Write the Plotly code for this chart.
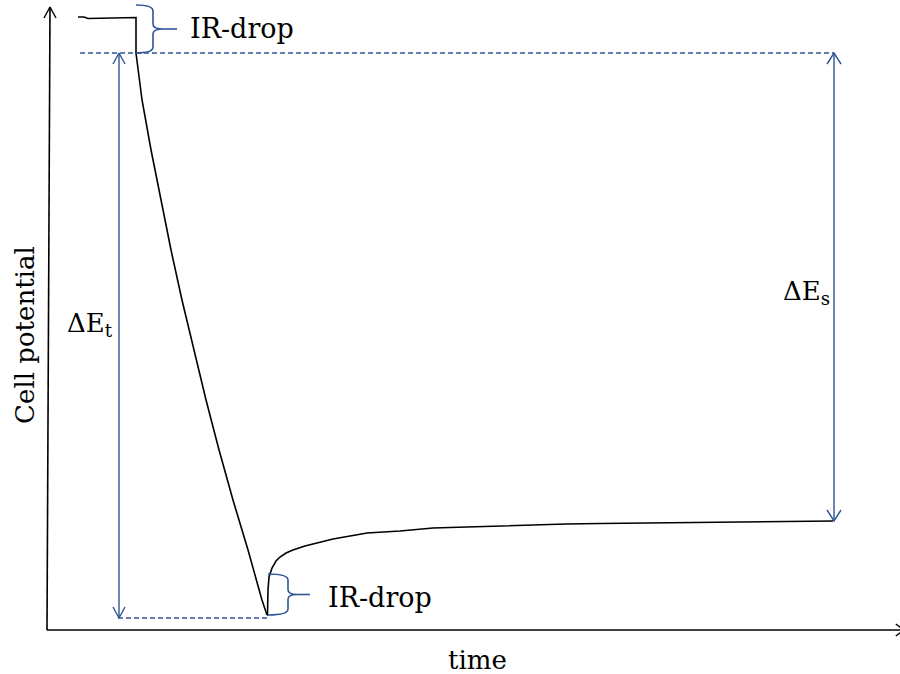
import plotly.graph_objects as go

# ---------------- data (time in arbitrary units, potential in arbitrary units) -------------
# rest period before current is applied
rest_t = [3.65, 4.35, 4.82, 6.71, 8.47, 10.47]
rest_E = [6.13, 6.13, 6.115, 6.12, 6.12, 6.125]

# discharge (after the first IR-drop)
dis_t = [10.47, 10.71, 11.18, 12.24, 13.41, 14.59, 15.88, 17.29, 18.71, 20.24,
         21.88, 23.65, 25.29, 25.88]
dis_E = [5.77, 5.60, 5.30, 4.80, 4.30, 3.80, 3.30, 2.80, 2.30, 1.80,
         1.30, 0.80, 0.30, 0.15]

# relaxation (after the second IR-drop)
rel_t = [25.94, 26.00, 26.12, 26.47, 26.94, 27.41, 28.12, 28.94, 30.35, 31.76,
         33.65, 35.65, 37.65, 41.53, 45.41, 49.41, 53.29, 57.18, 61.06, 65.06,
         70.94, 76.82, 82.71, 88.59, 92.47]
rel_E = [0.15, 0.40, 0.53, 0.62, 0.69, 0.73, 0.77, 0.80, 0.84, 0.87,
         0.91, 0.94, 0.97, 0.99, 1.02, 1.03, 1.04, 1.055, 1.06, 1.065,
         1.07, 1.075, 1.08, 1.085, 1.09]

E_rest = 6.13        # potential before current
E_top = 5.77         # after first IR-drop
E_min = 0.12         # lowest potential
E_steady = 1.09      # steady-state potential after relaxation
t_step = 10.47       # current switched on
t_end_pulse = 25.88  # current switched off
t_arrow_t = 8.47     # position of Delta E_t arrow
t_arrow_s = 92.59    # position of Delta E_s arrow
t_dash_start = 3.88
t_dash_low_start = 8.35
t_axis_end = 100.8
E_axis_end = 6.23

labels = {"ir": "IR-drop", "x": "time", "y": "Cell potential",
          "dEt": "ΔE<sub>t</sub>", "dEs": "ΔE<sub>s</sub>"}

# ---------------- styling / scale helpers ----------------
PX_X = 1 / 8.5    # data units per pixel horizontally
PX_Y = 1 / 100.0  # data units per pixel vertically
BLUE = "#2F5597"
BLACK = "#000000"
FONT = "DejaVu Serif"

fig = go.Figure()


def line(xs, ys, color=BLACK, width=1.6, dash=None):
    fig.add_trace(go.Scatter(x=xs, y=ys, mode="lines", hoverinfo="skip",
                             line=dict(color=color, width=width, dash=dash)))


# axes (drawn as lines with open arrowheads)
line([0, 3 * PX_X], [0, E_axis_end], width=1.6)
line([0, t_axis_end], [0, 0], width=1.6)
line([3 * PX_X - 6 * PX_X, 3 * PX_X, 3 * PX_X + 6 * PX_X],
     [E_axis_end - 11 * PX_Y, E_axis_end, E_axis_end - 11 * PX_Y], width=1.4)
line([t_axis_end - 8 * PX_X, t_axis_end, t_axis_end - 8 * PX_X],
     [6 * PX_Y, 0, -6 * PX_Y], width=1.4)

# potential curve
line(rest_t + [t_step] + dis_t, rest_E + [E_top] + dis_E, width=1.6)
line([t_end_pulse] + rel_t, [dis_E[-1]] + rel_E, width=1.6)

# dashed guides
line([t_dash_start, t_arrow_s], [E_top, E_top], color=BLUE, width=1.3, dash="5px,3px")
line([t_dash_low_start, t_end_pulse], [E_min, E_min], color=BLUE, width=1.3, dash="5px,3px")


def double_arrow(t, e1, e2, half=6, length=11):
    line([t, t], [e1, e2], color=BLUE, width=1.4)
    hi, lo = max(e1, e2), min(e1, e2)
    line([t - half * PX_X, t, t + half * PX_X],
         [hi - length * PX_Y, hi, hi - length * PX_Y], color=BLUE, width=1.4)
    line([t - half * PX_X, t, t + half * PX_X],
         [lo + length * PX_Y, lo, lo + length * PX_Y], color=BLUE, width=1.4)


double_arrow(t_arrow_t, E_top, E_min)
double_arrow(t_arrow_s, E_top, E_steady, half=7)


def brace(t0, e_hi, e_lo, width_px, tip_px, stem_px):
    """Curly brace opening to the left, drawn in data coordinates."""
    xb = t0 + width_px * PX_X
    xt = xb + tip_px * PX_X
    xs = xt + stem_px * PX_X
    em = (e_hi + e_lo) / 2
    r = 6 * PX_Y
    s = 5 * PX_Y
    path = (f"M {t0},{e_hi} Q {xb},{e_hi} {xb},{e_hi - r} "
            f"L {xb},{em + s} Q {xb},{em} {xt},{em} "
            f"Q {xb},{em} {xb},{em - s} "
            f"L {xb},{e_lo + r} Q {xb},{e_lo} {t0},{e_lo}")
    fig.add_shape(type="path", path=path, xref="x", yref="y",
                  line=dict(color=BLUE, width=1.6))
    line([xt, xs], [em, em], color=BLUE, width=1.6)


brace(t_step, E_rest + 0.12, E_top, 17, 10, 14)
brace(t_end_pulse + 0.12, 0.56, 0.15, 20, 9, 13)


def text(t, e, s, size=27, xanchor="left", angle=0):
    fig.add_annotation(x=t, y=e, text=s, showarrow=False, xanchor=xanchor,
                       yanchor="middle", textangle=angle,
                       font=dict(family=FONT, size=size, color=BLACK))


text(16.6, 6.02, labels["ir"])
text(32.8, 0.33, labels["ir"])
text(86.3, 3.38, labels["dEs"], size=26)
text(2.1, 3.06, labels["dEt"], size=26)
text(50.6, -0.30, labels["x"], size=26, xanchor="center")
text(-2.6, 2.95, labels["y"], size=26, xanchor="center", angle=-90)

fig.update_layout(
    width=900, height=674, margin=dict(l=0, r=0, t=0, b=0),
    paper_bgcolor="white", plot_bgcolor="white", showlegend=False,
    xaxis=dict(range=[-47 * PX_X, 853 * PX_X], visible=False, fixedrange=True),
    yaxis=dict(range=[-44 * PX_Y, 630 * PX_Y], visible=False, fixedrange=True),
)

fig.write_html("out.html",
               config={"displayModeBar": False, "staticPlot": True},
               post_script="document.body.style.margin='0';"
                           "document.body.style.overflow='hidden';")
